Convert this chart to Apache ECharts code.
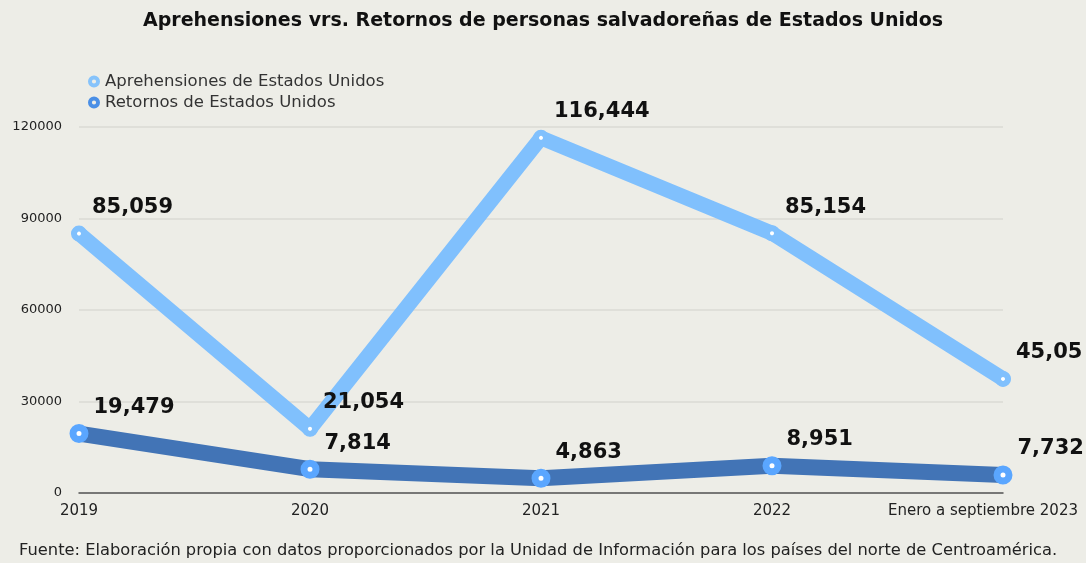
<!DOCTYPE html>
<html>
<head>
<meta charset="utf-8">
<script src="https://cdn.jsdelivr.net/npm/echarts@6/dist/echarts.min.js"></script>
<style>
  html, body { margin: 0; padding: 0; background: #edede7; }
  #chart { width: 1086px; height: 563px; }
</style>
</head>
<body>
<div id="chart"></div>
<script>
var categories = ["2019", "2020", "2021", "2022", "Enero a septiembre 2023"];
// positions
var aprehensiones = [85059, 21054, 116444, 85154, 37400];
var retornos = [19479, 7814, 4863, 8951, 5900];
// texts printed next to each point
var aprehensionesLabels = ["85,059", "21,054", "116,444", "85,154", "45,05"];
var retornosLabels = ["19,479", "7,814", "4,863", "8,951", "7,732"];

var myChart = echarts.init(document.getElementById("chart"));

var font = "'DejaVu Sans', sans-serif";
// ring icon: outer circle and inner hole drawn opposite ways
var ring = "path://M10,0A10,10,0,1,1,10,20A10,10,0,1,1,10,0ZM10,6.5A3.5,3.5,0,1,0,10,13.5A3.5,3.5,0,1,0,10,6.5Z";

function pointLabel(texts) {
  return {
    show: true,
    position: "right",
    distance: 5,
    offset: [0, -26],
    fontFamily: font,
    fontWeight: "bold",
    fontSize: 21,
    color: "#111",
    formatter: function (p) {
      return texts[p.dataIndex];
    },
  };
}

// last category label sits a little left of its tick
var xData = categories.map(function (c, i) {
  if (i === categories.length - 1) {
    return { value: c, textStyle: { padding: [0, 40, 0, 0] } };
  }
  return c;
});

option = {
  backgroundColor: "#edede7",
  animation: false,
  textStyle: { fontFamily: font },
  title: [
    {
      text: "Aprehensiones vrs. Retornos de personas salvadoreñas de Estados Unidos",
      left: "center",
      top: 7,
      textStyle: { fontFamily: font, fontSize: 19, fontWeight: "bold", color: "#111" },
    },
    {
      text: "Fuente: Elaboración propia con datos proporcionados por la Unidad de Información para los países del norte de Centroamérica.",
      left: 14,
      top: 538,
      textStyle: { fontFamily: font, fontSize: 16.3, fontWeight: "normal", color: "#222" },
    },
  ],
  legend: {
    orient: "vertical",
    left: 83,
    top: 68,
    itemGap: 4,
    itemWidth: 12,
    itemHeight: 12,
    textStyle: { fontFamily: font, fontSize: 16.5, color: "#333" },
    data: [
      { name: "Aprehensiones de Estados Unidos", icon: ring, itemStyle: { color: "#86c3fb", borderWidth: 0 } },
      { name: "Retornos de Estados Unidos", icon: ring, itemStyle: { color: "#4a8fe6", borderWidth: 0 } },
    ],
  },
  grid: { left: 79, right: 83, top: 127, bottom: 70, outerBoundsMode: "none" },
  xAxis: {
    type: "category",
    boundaryGap: false,
    data: xData,
    axisTick: { show: false },
    axisLine: { lineStyle: { color: "#555", width: 1.5 } },
    axisLabel: { interval: 0, color: "#222", fontSize: 15, margin: 11, fontFamily: font },
  },
  yAxis: {
    type: "value",
    min: 0,
    max: 120000,
    interval: 30000,
    axisLabel: {
      color: "#222",
      fontSize: 13,
      margin: 17,
      fontFamily: font,
      formatter: function (v) {
        return String(v);
      },
    },
    splitLine: { lineStyle: { color: "#dadad4", width: 1.5 } },
  },
  series: [
    {
      name: "Aprehensiones de Estados Unidos",
      type: "line",
      data: aprehensiones,
      z: 3,
      symbol: "circle",
      symbolSize: 10,
      lineStyle: { color: "#80c0fd", width: 15, cap: "round", join: "round" },
      itemStyle: { color: "#fff", borderColor: "#80c0fd", borderWidth: 6 },
      label: pointLabel(aprehensionesLabels),
    },
    {
      name: "Retornos de Estados Unidos",
      type: "line",
      data: retornos,
      z: 2,
      symbol: "circle",
      symbolSize: 12,
      lineStyle: { color: "#4274b6", width: 16, join: "round" },
      itemStyle: { color: "#fff", borderColor: "#5aa6ff", borderWidth: 7 },
      label: pointLabel(retornosLabels),
    },
  ],
};

myChart.setOption(option);
</script>
</body>
</html>
